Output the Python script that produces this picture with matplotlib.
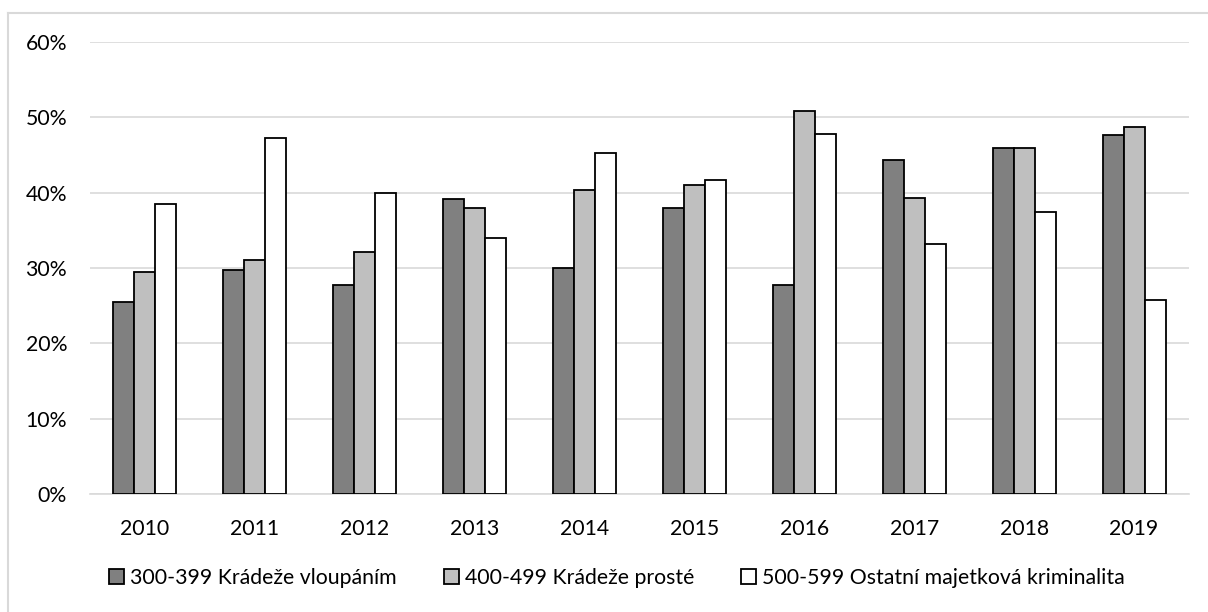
import matplotlib
matplotlib.use("Agg")
import matplotlib.pyplot as plt
import numpy as np
from matplotlib.lines import Line2D
from matplotlib.ticker import FuncFormatter

plt.rcParams['font.family'] = ['Lato', 'DejaVu Sans']

# data (shares, %)
years = ['2010', '2011', '2012', '2013', '2014', '2015', '2016', '2017', '2018', '2019']
vloupanim = [25.5, 29.8, 27.8, 39.1, 30.0, 38.0, 27.7, 44.4, 45.9, 47.6]
proste = [29.5, 31.0, 32.1, 37.9, 40.4, 41.0, 50.8, 39.3, 45.9, 48.7]
ostatni = [38.5, 47.2, 40.0, 34.0, 45.3, 41.7, 47.8, 33.2, 37.5, 25.7]
series_names = ['300-399 Krádeže vloupáním', '400-499 Krádeže prosté',
                '500-599 Ostatní majetková kriminalita']
colors = ['#808080', '#bfbfbf', '#ffffff']

W, H = 1208, 612
fig = plt.figure(figsize=(W / 100, H / 100), dpi=100)
ax = fig.add_axes([90 / W, 1 - 494 / H, (1189 - 90) / W, (494 - 42) / H])

x = np.arange(len(years))
bw = 21 / 110
for i, (vals, col, name) in enumerate(zip([vloupanim, proste, ostatni], colors, series_names)):
    ax.bar(x + (i - 1) * bw, np.array(vals) / 100, width=bw, color=col,
           edgecolor='black', linewidth=1.3, label=name, zorder=3)

ax.set_xlim(-0.5, len(years) - 0.5)
ax.set_ylim(0, 0.6)
ax.set_yticks(np.arange(0, 0.61, 0.1))
ax.yaxis.set_major_formatter(FuncFormatter(lambda v, p: f'{v * 100:.0f}%'))
ax.set_xticks(x)
ax.set_xticklabels(years)
ax.grid(axis='y', color='#d9d9d9', linewidth=1.2, zorder=0)
for s in ['top', 'right', 'left']:
    ax.spines[s].set_visible(False)
ax.spines['bottom'].set_color('#d9d9d9')
ax.spines['bottom'].set_linewidth(1.2)
ax.tick_params(axis='both', length=0, labelsize=15.3, colors='#000000')
ax.tick_params(axis='y', pad=16.5)
ax.tick_params(axis='x', pad=18)

fig.legend(loc='center', bbox_to_anchor=(617 / W, 1 - 578 / H), ncol=3,
           frameon=False, fontsize=15.3, handlelength=0.7, handleheight=0.7,
           handletextpad=0.3, columnspacing=2.2, borderpad=0)

# outer chart border
fig.add_artist(Line2D([8 / W, 1], [1 - 13 / H, 1 - 13 / H], color='#d9d9d9', linewidth=1.5))
fig.add_artist(Line2D([8 / W, 8 / W], [0, 1 - 13 / H], color='#d9d9d9', linewidth=1.5))

fig.savefig('out.png', dpi=100)
